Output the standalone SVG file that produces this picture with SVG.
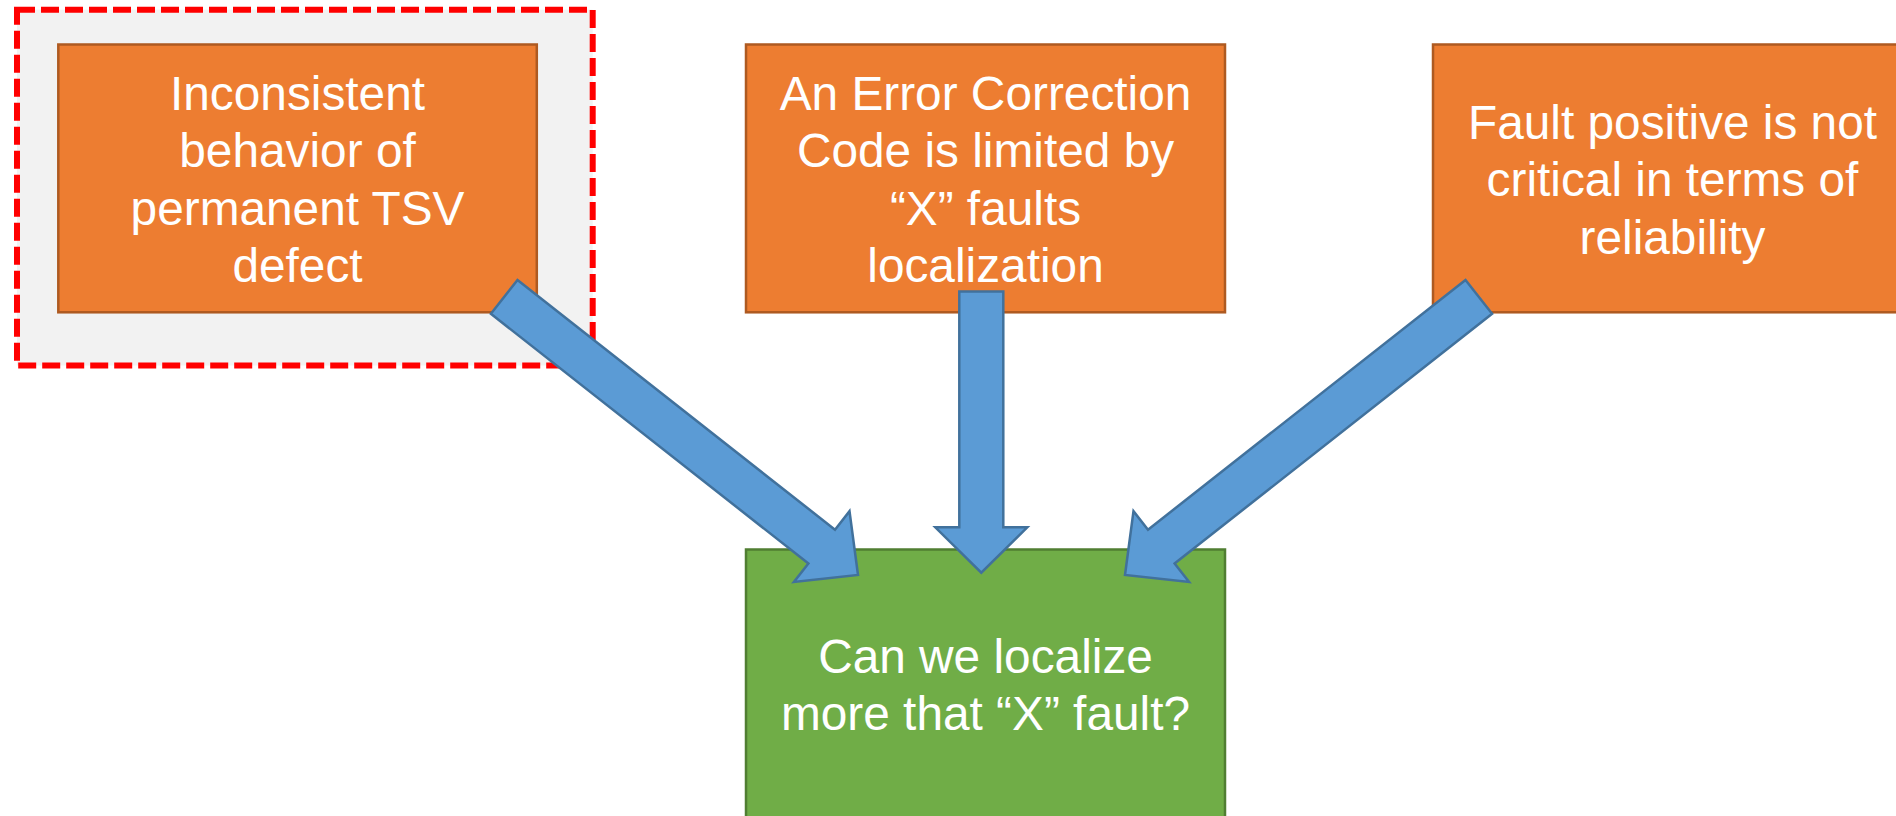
<svg xmlns="http://www.w3.org/2000/svg" width="1896" height="816" viewBox="0 0 1896 816">
  <style>
    .cause { fill: #ED7D31; stroke: #AE5A21; stroke-width: 2.5; }
    .goal { fill: #70AD47; stroke: #507E32; stroke-width: 2.5; }
    .focus { fill: #F2F2F2; stroke: #FF0000; stroke-width: 6; stroke-dasharray: 18 6; }
    .arrow { fill: #5B9BD5; stroke: #41719C; stroke-width: 2.5; stroke-linejoin: miter; }
    .label { fill: #FFFFFF; font-family: "Liberation Sans", Arial, Helvetica, sans-serif; font-size: 47.8px; text-anchor: middle; }
  </style>
  <rect width="1896" height="816" fill="#FFFFFF"/>

  <!-- highlighted cause -->
  <g id="highlight">
    <rect class="focus" x="17" y="9.7" width="575.7" height="355.8"/>
  </g>

  <g id="node-tsv-defect">
    <rect class="cause" x="58.3" y="44.5" width="478.5" height="267.8"/>
    <text class="label" x="297.5" y="109.5">Inconsistent</text>
    <text class="label" x="297.5" y="167">behavior of</text>
    <text class="label" x="297.5" y="224.5">permanent TSV</text>
    <text class="label" x="297.5" y="282">defect</text>
  </g>

  <g id="node-ecc-limit">
    <rect class="cause" x="746" y="44.5" width="479" height="267.8"/>
    <text class="label" x="985.5" y="109.5">An Error Correction</text>
    <text class="label" x="985.5" y="167">Code is limited by</text>
    <text class="label" x="985.5" y="224.5">“X” faults</text>
    <text class="label" x="985.5" y="282">localization</text>
  </g>

  <g id="node-fault-positive">
    <rect class="cause" x="1433" y="44.5" width="479" height="267.8"/>
    <text class="label" x="1672.5" y="138.5">Fault positive is not</text>
    <text class="label" x="1672.5" y="196">critical in terms of</text>
    <text class="label" x="1672.5" y="253.5">reliability</text>
  </g>

  <g id="node-question">
    <rect class="goal" x="746" y="549.5" width="479" height="270"/>
    <text class="label" x="985.5" y="672.5">Can we localize</text>
    <text class="label" x="985.5" y="730">more that “X” fault?</text>
  </g>

  <!-- block arrows into the question -->
  <g id="connectors">
    <polygon class="arrow" points="517.5,280 835,529.7 849.5,511.2 858,575 793.9,582 808.4,563.5 490.9,313.8"/>
    <polygon class="arrow" points="959.3,291.5 1003.3,291.5 1003.3,527.3 1027.3,527.3 981.3,572.7 935.3,527.3 959.3,527.3"/>
    <polygon class="arrow" points="1465.5,280 1148,529.7 1133.5,511.2 1125,575 1189.1,582 1174.6,563.5 1492.1,313.8"/>
  </g>
</svg>
